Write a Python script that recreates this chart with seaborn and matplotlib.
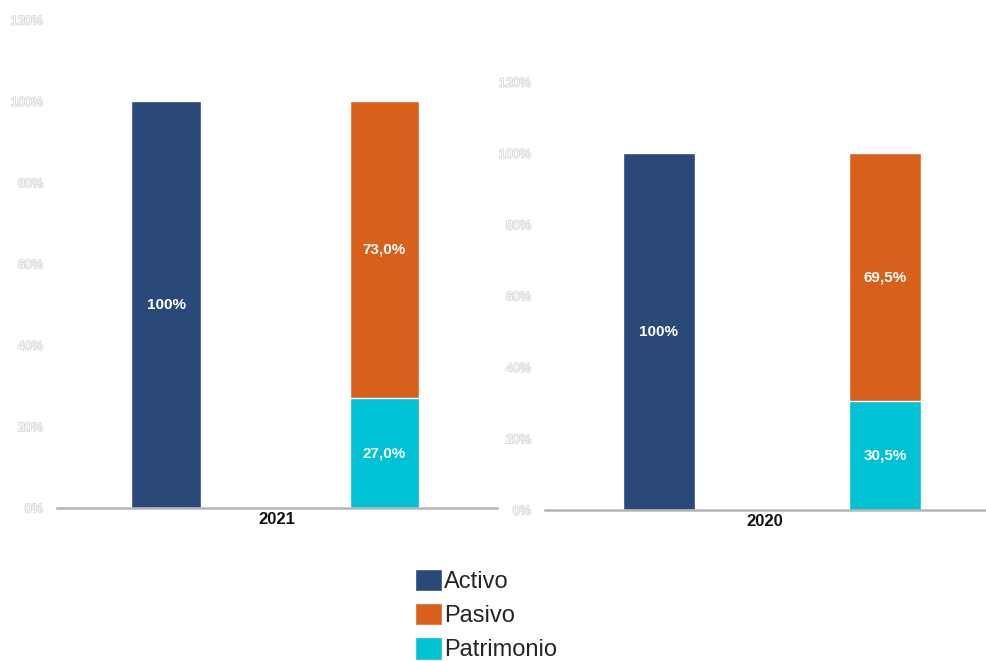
import matplotlib
matplotlib.use("Agg")
import matplotlib.pyplot as plt
import matplotlib.patheffects as pe
from matplotlib.patches import Patch
import seaborn as sns

# datos
cuentas = ["Activo", "Pasivo"]
anios = ["2021", "2020"]
activo = [100.0, 100.0]
pasivo = [73.0, 69.5]
patrimonio = [27.0, 30.5]
etq_activo = ["100%", "100%"]
etq_pasivo = ["73,0%", "69,5%"]
etq_patrimonio = ["27,0%", "30,5%"]
ticks = [0, 20, 40, 60, 80, 100, 120]
tick_labels = ["0%", "20%", "40%", "60%", "80%", "100%", "120%"]

c_activo = "#2a4878"
c_pasivo = "#d9601a"
c_patrimonio = "#00c2d4"

sns.set_style("white")
plt.rcParams["font.family"] = ["Liberation Sans Narrow", "Liberation Sans", "DejaVu Sans"]

fig = plt.figure(figsize=(9.87, 6.61), dpi=100)

# posiciones de los paneles (izq, abajo, ancho, alto) y limites x
rects = [
    [57 / 987, 153 / 661, 440 / 987, 488 / 661],
    [545 / 987, 151 / 661, 440 / 987, 428 / 661],
]
xlims = [(-0.499, 1.515), (-0.504, 1.442)]

for i, rect in enumerate(rects):
    ax = fig.add_axes(rect)
    total = [activo[i], pasivo[i] + patrimonio[i]]
    sns.barplot(x=cuentas, y=total, hue=cuentas, palette=[c_activo, c_pasivo],
                width=0.32, legend=False, ax=ax, saturation=1)
    sns.barplot(x=cuentas, y=[0, patrimonio[i]], hue=cuentas,
                palette=[c_activo, c_patrimonio], width=0.32, legend=False,
                ax=ax, saturation=1)
    ax.set_xlim(*xlims[i])
    ax.set_ylim(0, 120)
    ax.set_yticks(ticks)
    ax.set_yticklabels(tick_labels)
    for t in ax.get_yticklabels():
        t.set_color("white")
        t.set_fontsize(9)
        t.set_path_effects([pe.withStroke(linewidth=1.2, foreground="#d6d6d6")])
    ax.tick_params(axis="both", length=0, pad=10)
    ax.set_xticks([])
    ax.set_xlabel(anios[i], fontsize=12, fontweight="bold", color="#111111", labelpad=3)
    ax.set_ylabel("")
    for s in ["top", "right", "left"]:
        ax.spines[s].set_visible(False)
    ax.spines["bottom"].set_color("#b5b5b5")
    ax.spines["bottom"].set_linewidth(1.8)

    kw = dict(ha="center", va="center", color="white", fontsize=11, fontweight="bold")
    ax.text(0, activo[i] / 2, etq_activo[i], **kw)
    ax.text(1, patrimonio[i] + pasivo[i] / 2, etq_pasivo[i], **kw)
    ax.text(1, patrimonio[i] / 2, etq_patrimonio[i], **kw)

handles = [Patch(facecolor=c_activo, label="Activo"),
           Patch(facecolor=c_pasivo, label="Pasivo"),
           Patch(facecolor=c_patrimonio, label="Patrimonio")]
fig.legend(handles=handles, loc="upper left", bbox_to_anchor=(398 / 987, 1 - 552 / 661),
           frameon=False, prop={"family": ["Liberation Sans", "DejaVu Sans"], "size": 17},
           handlelength=1.15, handleheight=1.1, handletextpad=0.1, labelspacing=0.42,
           borderpad=0.2)

fig.savefig("out.png", dpi=100, facecolor="white")
